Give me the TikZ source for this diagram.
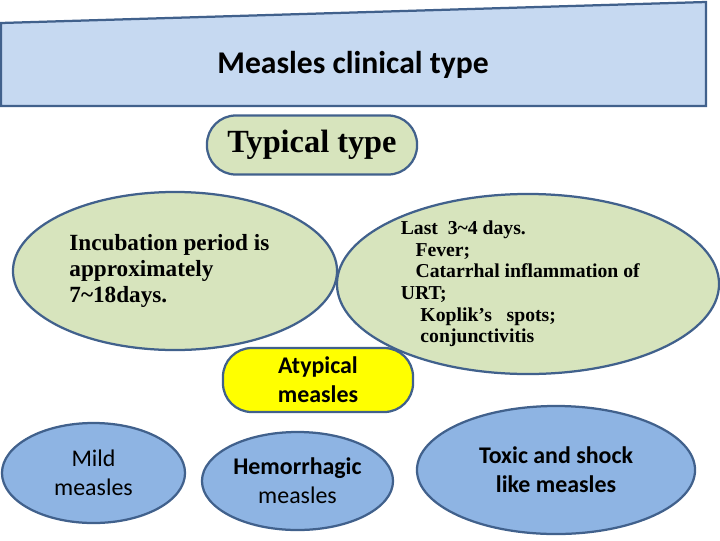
\documentclass[tikz,border=0pt]{standalone}
\usepackage{fontspec}
\setmainfont{Liberation Serif}
\newfontfamily\calibri{Carlito}
\usetikzlibrary{shapes.geometric}

\definecolor{keret}{HTML}{41618C}
\definecolor{fejlec}{HTML}{C6D9F1}
\definecolor{zold}{HTML}{D7E4BD}
\definecolor{kek}{HTML}{8EB4E3}
\definecolor{sarga}{HTML}{FFFF00}

\tikzset{
  ovalis/.style={ellipse, draw=keret, line width=1.6pt, inner sep=0pt},
  kapszula/.style={rectangle, rounded corners=0.72cm, draw=keret, line width=1.6pt, inner sep=0pt},
  szoveg/.style={font=\calibri\fontsize{17}{20.5}\selectfont, align=center}
}

\begin{document}
\begin{tikzpicture}[x=0.025cm, y=-0.025cm]
				\useasboundingbox (0,0) rectangle (720,540);
				
				% fejlec
				\filldraw[fill=fejlec, draw=keret, line width=1.6pt] (1,23) -- (706,2) -- (706,106) -- (1,106) -- cycle;
				\node (cim) at (353,65) {\calibri\bfseries\fontsize{22.5}{26}\selectfont Measles clinical type};
				
				% tipikus
				\node[kapszula, fill=zold, minimum width=5.25cm, minimum height=1.475cm] (tipikus) at (312,145)
				{\bfseries\fontsize{23}{26}\selectfont Typical type};
				
				% ovalisok
				\node[ovalis, fill=zold, minimum width=9.55cm, minimum height=4.5cm, align=left,
				      font=\bfseries\fontsize{14}{15.3}\selectfont] (tunetek) at (528,284)
				{Last\ \ 3\textasciitilde4 days.\\
				 \hspace*{10.5pt}Fever;\\
				 \hspace*{10.5pt}Catarrhal inflammation of\rule{11pt}{0pt}\\
				 URT;\\
				 \hspace*{14pt}Koplik’s\ \ \ spots;\\
				 \hspace*{14pt}conjunctivitis};
				\node[ovalis, fill=zold, minimum width=8.1cm, minimum height=3.95cm, align=left,
				      font=\bfseries\fontsize{16.5}{18.5}\selectfont] (lappangas) at (175,271)
				{Incubation\ period\ is\hspace*{8pt}\\approximately\\7\textasciitilde18days.};
				
				% atipikus
				\node[kapszula, fill=sarga, minimum width=4.75cm, minimum height=1.6cm, szoveg, font=\calibri\bfseries\fontsize{17}{20.5}\selectfont] (atipikus) at (318,380)
				{Atypical\\measles};
				
				% also sor
				\node[ovalis, fill=kek, minimum width=4.575cm, minimum height=2.5cm, szoveg] (enyhe) at (93.5,473)
				{Mild\\measles};
				\node[ovalis, fill=kek, minimum width=4.775cm, minimum height=2.45cm, szoveg] (verzeses) at (297.5,481)
				{\bfseries Hemorrhagic\\measles};
				\node[ovalis, fill=kek, minimum width=6.95cm, minimum height=3.2cm, szoveg, font=\calibri\bfseries\fontsize{17}{20.5}\selectfont] (toxikus) at (556,470)
				{Toxic and shock\\like measles};
				
			\end{tikzpicture}
\end{document}
